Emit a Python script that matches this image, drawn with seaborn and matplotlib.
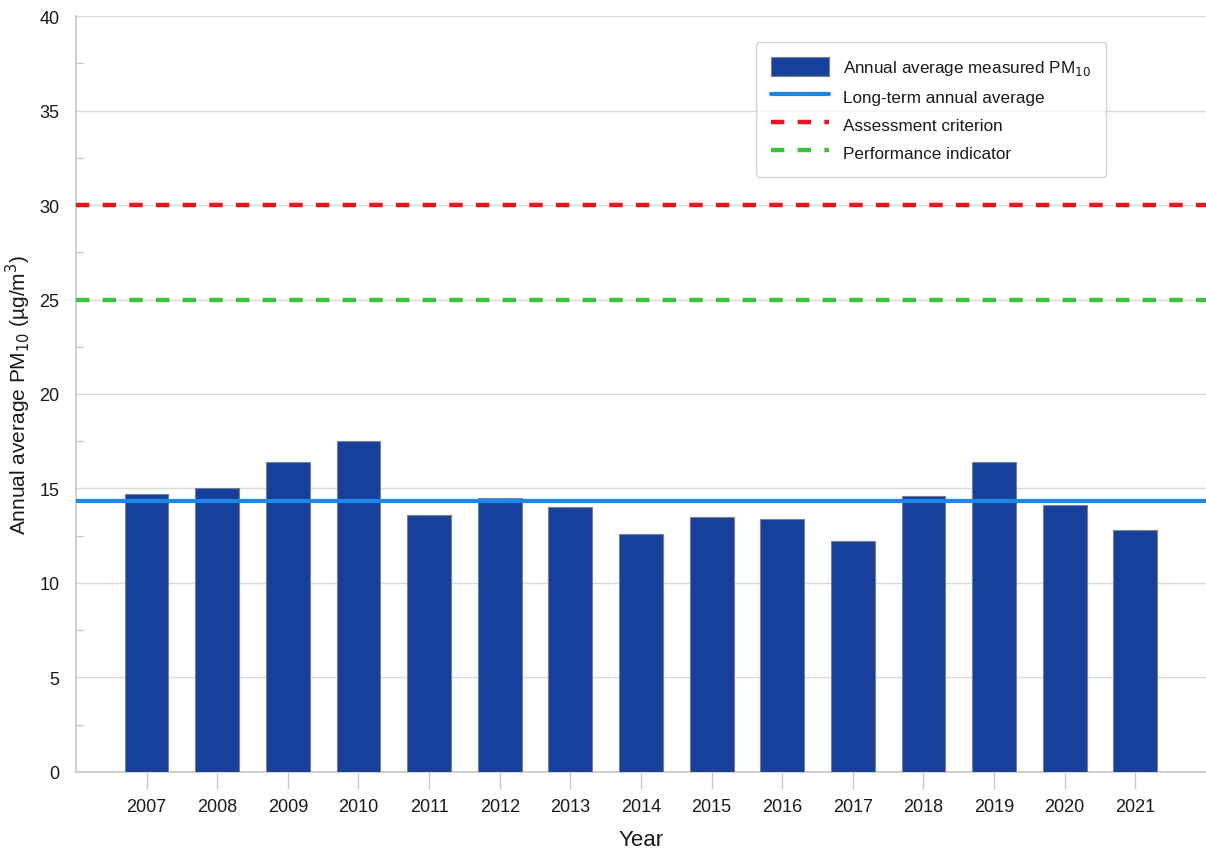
import matplotlib
matplotlib.use("Agg")
import matplotlib.pyplot as plt
from matplotlib.ticker import MultipleLocator
import pandas as pd
import seaborn as sns

years = ["2007", "2008", "2009", "2010", "2011", "2012", "2013", "2014",
         "2015", "2016", "2017", "2018", "2019", "2020", "2021"]
pm10 = [14.7, 15.0, 16.4, 17.5, 13.6, 14.5, 14.0, 12.6,
        13.5, 13.4, 12.2, 14.6, 16.4, 14.1, 12.8]
long_term_avg = 14.35
assessment_criterion = 30
performance_indicator = 25

df = pd.DataFrame({"Year": years, "PM10": pm10})

sns.set_style("white")
plt.rcParams["font.family"] = ["Liberation Sans", "DejaVu Sans"]
plt.rcParams["text.color"] = "#1a1a1a"
plt.rcParams["axes.labelcolor"] = "#1a1a1a"
plt.rcParams["xtick.color"] = "#1a1a1a"
plt.rcParams["ytick.color"] = "#1a1a1a"

fig, ax = plt.subplots(figsize=(12.06, 8.54), dpi=100)
fig.subplots_adjust(left=0.063, right=1.0, top=0.98, bottom=0.095)

sns.barplot(data=df, x="Year", y="PM10", color="#16409c", saturation=1,
            width=0.62, edgecolor="#7a8190", linewidth=0.8,
            label="Annual average measured PM$_{10}$", ax=ax, zorder=3)

ax.axhline(long_term_avg, color="#1e88ea", lw=3, zorder=4,
           label="Long-term annual average")
ax.axhline(assessment_criterion, color="#e8161c", lw=3.2, ls=(0, (3, 3)),
           zorder=4, label="Assessment criterion")
ax.axhline(performance_indicator, color="#3cc23c", lw=3.2, ls=(0, (3, 3)),
           zorder=4, label="Performance indicator")

ax.set_xlim(-1, 15)
ax.set_ylim(0, 40)
ax.yaxis.set_major_locator(MultipleLocator(5))
ax.yaxis.set_minor_locator(MultipleLocator(2.5))
ax.grid(axis="y", which="major", color="#d9d9d9", lw=1, zorder=0)
ax.set_axisbelow(True)

for side in ["top", "right"]:
    ax.spines[side].set_visible(False)
for side in ["left", "bottom"]:
    ax.spines[side].set_color("#c8c8c8")
    ax.spines[side].set_linewidth(1.2)

ax.tick_params(axis="y", which="minor", left=True, direction="in", length=5,
               width=1, color="#c8c8c8")
ax.tick_params(axis="y", which="major", left=False, length=0,
               labelsize=13, pad=12)
ax.tick_params(axis="x", bottom=True, direction="out", length=12, width=1,
               color="#c8c8c8", labelsize=13, pad=7)

ax.set_xlabel("Year", fontsize=16, labelpad=10)
ax.set_ylabel("Annual average PM$_{10}$ (µg/m$^3$)", fontsize=15)
ax.yaxis.set_label_coords(-0.038, 0.5)

handles, labels = ax.get_legend_handles_labels()
order = [labels.index(l) for l in ["Annual average measured PM$_{10}$",
                                   "Long-term annual average",
                                   "Assessment criterion",
                                   "Performance indicator"]]
leg = ax.legend([handles[i] for i in order], [labels[i] for i in order],
                loc="upper right", bbox_to_anchor=(0.9115, 0.966),
                fontsize=12.3, frameon=True, fancybox=True, handlelength=3.4,
                handleheight=1.3, borderpad=0.9, labelspacing=0.55,
                handletextpad=0.8, borderaxespad=0)
leg.get_frame().set_edgecolor("#c8c8c8")
leg.get_frame().set_linewidth(1)

fig.savefig("out.png", dpi=100)
